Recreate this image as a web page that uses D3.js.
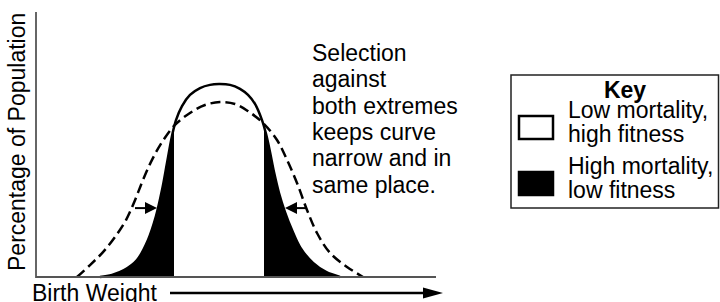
<!DOCTYPE html>
<html>
<head>
<meta charset="utf-8">
<script src="https://cdn.jsdelivr.net/npm/d3@7"></script>
<style>
    html, body { margin: 0; padding: 0; background: #fff; }
    svg { display: block; font-family: "Liberation Sans", Arial, Helvetica, sans-serif; }
</style>
</head>
<body>
<div id="chart"></div>
<script>
// birth weight (arbitrary units 0-100) vs percentage of population
const solidX = [16, 19, 22, 25.25, 28, 30, 31.5, 32.75, 34, 35, 36.5, 38.5, 41, 43.5, 45.75,
    48.5, 51, 53, 54.75, 56.5, 57.5, 58.5, 59.5, 60.75, 62.25, 64, 66, 69.25, 72.5, 76];
const solidY = [0, 0.8, 2.6, 6.4, 14, 23, 32.8, 43, 53.2, 59.2, 64.5, 68.7, 71.3, 72.5, 72.8,
    72.5, 71, 68.7, 65.3, 59.2, 54, 47.2, 39.6, 31.7, 24.5, 17.7, 11.3, 5.3, 1.9, 0];

const dashedX = [10.25, 13.5, 16.75, 19.75, 22.5, 24.75, 26.75, 29, 31.5, 34.75, 38.5, 42.25, 46,
    49.75, 53, 56.75, 60.25, 62.75, 65.25, 67.75, 70.25, 73.5, 77.75, 81.75];
const dashedY = [0, 4.5, 9.4, 15.1, 21.5, 29, 36.6, 44.2, 50.9, 57.4, 61.9, 64.9, 66,
    65.3, 62.6, 58.1, 51.7, 44.2, 35.5, 25.3, 16.6, 9.1, 3.8, 0];

// tails cut off by selection
const lowCut = 34.5;
const highCut = 57;

// arrows: [from (dashed), to (solid)] at the same height
const arrowY = 26;
const arrows = [[24.75, 30.25], [67.75, 62.25]];

const noteLines = ["Selection", "against", "both extremes", "keeps curve", "narrow and in", "same place."];
const keyItems = [
    {label: ["Low mortality,", "high fitness"], fill: "#fff"},
    {label: ["High mortality,", "low fitness"], fill: "#000"}
];

const width = 720, height = 302;
const margin = {top: 12, left: 36, right: 284, bottom: 25};

const svg = d3.select("#chart").append("svg")
    .attr("width", width)
    .attr("height", height);

const xScale = d3.scaleLinear().domain([0, 100]).range([margin.left, width - margin.right]);
const yScale = d3.scaleLinear().domain([0, 100]).range([height - margin.bottom, margin.top]);

const solid = solidX.map((x, i) => [x, solidY[i]]);
const dashed = dashedX.map((x, i) => [x, dashedY[i]]);

const line = d3.line()
    .x(d => xScale(d[0]))
    .y(d => yScale(d[1]))
    .curve(d3.curveCatmullRom.alpha(0.5));

const area = d3.area()
    .x(d => xScale(d[0]))
    .y0(yScale(0))
    .y1(d => yScale(d[1]))
    .curve(d3.curveCatmullRom.alpha(0.5));

// black tails
const clip = svg.append("clipPath").attr("id", "tails");
clip.append("rect")
    .attr("x", xScale(solidX[0]) - 2).attr("y", 0)
    .attr("width", xScale(lowCut) - xScale(solidX[0]) + 2).attr("height", height);
clip.append("rect")
    .attr("x", xScale(highCut)).attr("y", 0)
    .attr("width", xScale(solidX[solidX.length - 1]) - xScale(highCut) + 2).attr("height", height);

svg.append("path")
    .datum(solid)
    .attr("d", area)
    .attr("fill", "#000")
    .attr("clip-path", "url(#tails)");

svg.append("path")
    .datum(dashed)
    .attr("d", line)
    .attr("fill", "none")
    .attr("stroke", "#000")
    .attr("stroke-width", 2.5)
    .attr("stroke-dasharray", "10,5");

svg.append("path")
    .datum(solid)
    .attr("d", line)
    .attr("fill", "none")
    .attr("stroke", "#000")
    .attr("stroke-width", 2.5);

// axes (plain lines, no ticks)
svg.append("line")
    .attr("x1", xScale(0)).attr("x2", xScale(0))
    .attr("y1", yScale(100)).attr("y2", yScale(0) + 1)
    .attr("stroke", "#333").attr("stroke-width", 1.5);
svg.append("line")
    .attr("x1", xScale(0)).attr("x2", xScale(100))
    .attr("y1", yScale(0)).attr("y2", yScale(0))
    .attr("stroke", "#555").attr("stroke-width", 2);

// selection arrows
function arrowHead(tipX, tipY, dir, len, half) {
    return `M${tipX},${tipY}L${tipX - dir * len},${tipY - half}L${tipX - dir * len},${tipY + half}Z`;
}
arrows.forEach(([from, to]) => {
    const dir = to > from ? 1 : -1;
    const y = yScale(arrowY);
    svg.append("line")
        .attr("x1", xScale(from)).attr("x2", xScale(to) - dir * 6)
        .attr("y1", y).attr("y2", y)
        .attr("stroke", "#000").attr("stroke-width", 2);
    svg.append("path")
        .attr("d", arrowHead(xScale(to), y, dir, 12, 6))
        .attr("fill", "#000");
});

// axis titles
svg.append("text")
    .attr("transform", `translate(25,${yScale(0) - 6}) rotate(-90)`)
    .attr("font-size", 23)
    .text("Percentage of Population");

svg.append("text")
    .attr("x", 32).attr("y", 301)
    .attr("font-size", 23)
    .text("Birth Weight");

svg.append("line")
    .attr("x1", 170).attr("x2", 426)
    .attr("y1", 293).attr("y2", 293)
    .attr("stroke", "#000").attr("stroke-width", 2.5);
svg.append("path")
    .attr("d", arrowHead(443, 293, 1, 20, 5.5))
    .attr("fill", "#000");

// annotation
svg.append("text")
    .attr("font-size", 23)
    .selectAll("tspan")
    .data(noteLines)
    .join("tspan")
    .attr("x", 312)
    .attr("y", (d, i) => 61 + i * 26.3)
    .text(d => d);

// key
const key = svg.append("g").attr("class", "key");
key.append("rect")
    .attr("x", 511).attr("y", 75)
    .attr("width", 207.5).attr("height", 133)
    .attr("fill", "#fff").attr("stroke", "#222").attr("stroke-width", 1.5);
key.append("text")
    .attr("x", 625).attr("y", 98)
    .attr("text-anchor", "middle")
    .attr("font-size", 23).attr("font-weight", "bold")
    .text("Key");

keyItems.forEach((item, i) => {
    const top = 118 + i * 56;
    key.append("rect")
        .attr("x", 519).attr("y", top - 2)
        .attr("width", 34).attr("height", 23)
        .attr("fill", item.fill)
        .attr("stroke", "#000").attr("stroke-width", 2.5);
    key.append("text")
        .attr("font-size", 23)
        .selectAll("tspan")
        .data(item.label)
        .join("tspan")
        .attr("x", 568)
        .attr("y", (d, j) => top + j * 24)
        .text(d => d);
});
</script>
</body>
</html>
